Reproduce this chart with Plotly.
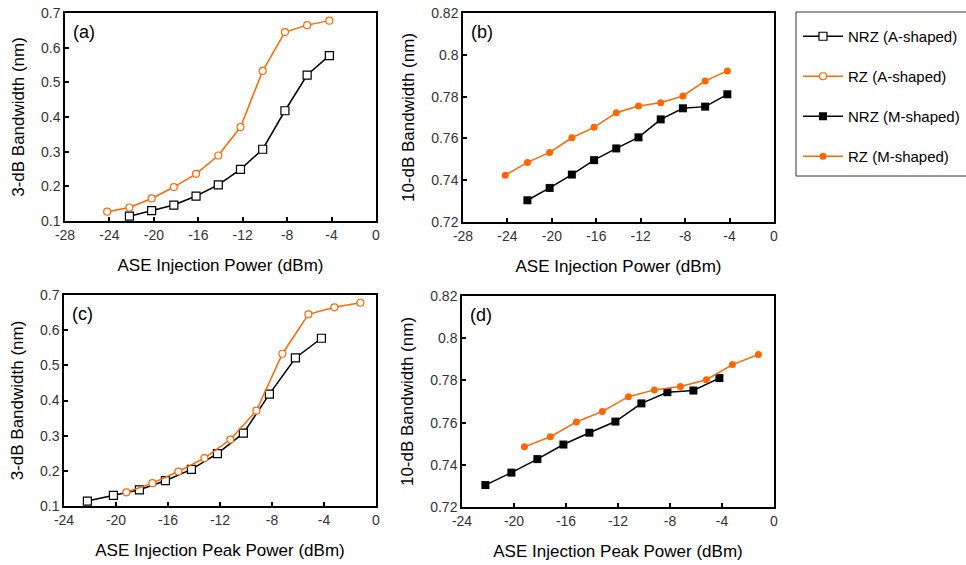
import plotly.graph_objects as go

# ---------------- data ----------------
# average power axis (panels a, b)
rz_x_avg = [-24.2, -22.2, -20.2, -18.2, -16.2, -14.2, -12.2, -10.2, -8.2, -6.2, -4.2]
nrz_x = [-22.2, -20.2, -18.2, -16.2, -14.2, -12.2, -10.2, -8.2, -6.2, -4.2]
# peak power axis (panels c, d)
rz_x_peak = [-19.2, -17.2, -15.2, -13.2, -11.2, -9.2, -7.2, -5.2, -3.2, -1.2]

# 3-dB bandwidth (nm), A-shaped
rz_a_3db = [0.127, 0.139, 0.165, 0.198, 0.236, 0.289, 0.371, 0.533, 0.645, 0.665, 0.678]
nrz_a_3db = [0.114, 0.130, 0.146, 0.172, 0.204, 0.249, 0.307, 0.418, 0.521, 0.577]
rz_a_3db_peak = [0.139, 0.165, 0.198, 0.236, 0.289, 0.371, 0.533, 0.645, 0.665, 0.678]

# 10-dB bandwidth (nm), M-shaped
rz_m_10db = [0.7424, 0.7485, 0.7533, 0.7603, 0.7653, 0.7723, 0.7755, 0.7771, 0.7803, 0.7875, 0.7923]
nrz_m_10db = [0.7304, 0.7363, 0.7427, 0.7496, 0.7552, 0.7605, 0.7691, 0.7744, 0.7752, 0.7811]
rz_m_10db_peak = [0.7485, 0.7533, 0.7603, 0.7653, 0.7723, 0.7755, 0.7771, 0.7803, 0.7875, 0.7923]

# tick labels
xt_avg = [-28, -24, -20, -16, -12, -8, -4, 0]
xt_avg_txt = ["-28", "-24", "-20", "-16", "-12", "-8", "-4", "0"]
xt_peak = [-24, -20, -16, -12, -8, -4, 0]
xt_peak_txt = ["-24", "-20", "-16", "-12", "-8", "-4", "0"]
yt_3db = [0.1, 0.2, 0.3, 0.4, 0.5, 0.6, 0.7]
yt_3db_txt = ["0.1", "0.2", "0.3", "0.4", "0.5", "0.6", "0.7"]
yt_10db = [0.72, 0.74, 0.76, 0.78, 0.80, 0.82]
yt_10db_txt = ["0.72", "0.74", "0.76", "0.78", "0.8", "0.82"]

names = ["NRZ (A-shaped)", "RZ (A-shaped)", "NRZ (M-shaped)", "RZ (M-shaped)"]
panel_labels = ["(a)", "(b)", "(c)", "(d)"]

# ---------------- styles ----------------
ORANGE = "#FF6600"
BLACK = "#000000"
FONT = "Liberation Sans, Arial, sans-serif"
W, H = 966, 565

fig = go.Figure()

def px_dom_x(a, b):
    return [a / W, b / W]

def px_dom_y(top, bottom):
    return [1 - bottom / H, 1 - top / H]

sty = {
    "nrz_a": dict(mode="lines+markers", line=dict(color=BLACK, width=1.5),
                  marker=dict(symbol="square", size=8, color="white", line=dict(color=BLACK, width=1.2))),
    "rz_a": dict(mode="lines+markers", line=dict(color=ORANGE, width=1.5),
                 marker=dict(symbol="circle", size=7, color="white", line=dict(color=ORANGE, width=1.2))),
    "nrz_m": dict(mode="lines+markers", line=dict(color=BLACK, width=1.5),
                  marker=dict(symbol="square", size=8, color=BLACK)),
    "rz_m": dict(mode="lines+markers", line=dict(color=ORANGE, width=1.5),
                 marker=dict(symbol="circle", size=7, color=ORANGE)),
}

# panel a
fig.add_trace(go.Scatter(x=nrz_x, y=nrz_a_3db, name=names[0], legendgroup="g1", xaxis="x", yaxis="y", **sty["nrz_a"]))
fig.add_trace(go.Scatter(x=rz_x_avg, y=rz_a_3db, name=names[1], legendgroup="g2", xaxis="x", yaxis="y", **sty["rz_a"]))
# panel b
fig.add_trace(go.Scatter(x=nrz_x, y=nrz_m_10db, name=names[2], legendgroup="g3", xaxis="x2", yaxis="y2", **sty["nrz_m"]))
fig.add_trace(go.Scatter(x=rz_x_avg, y=rz_m_10db, name=names[3], legendgroup="g4", xaxis="x2", yaxis="y2", **sty["rz_m"]))
# panel c
fig.add_trace(go.Scatter(x=nrz_x, y=nrz_a_3db, name=names[0], legendgroup="g1", showlegend=False, xaxis="x3", yaxis="y3", **sty["nrz_a"]))
fig.add_trace(go.Scatter(x=rz_x_peak, y=rz_a_3db_peak, name=names[1], legendgroup="g2", showlegend=False, xaxis="x3", yaxis="y3", **sty["rz_a"]))
# panel d
fig.add_trace(go.Scatter(x=nrz_x, y=nrz_m_10db, name=names[2], legendgroup="g3", showlegend=False, xaxis="x4", yaxis="y4", **sty["nrz_m"]))
fig.add_trace(go.Scatter(x=rz_x_peak, y=rz_m_10db_peak, name=names[3], legendgroup="g4", showlegend=False, xaxis="x4", yaxis="y4", **sty["rz_m"]))

tickfont = dict(family=FONT, size=14, color="#333333")
titlefont = dict(family=FONT, size=17, color="#000000")

def xax(dom, anchor, rng, tv, tt, title):
    return dict(domain=dom, anchor=anchor, range=rng, tickvals=tv, ticktext=tt,
                showline=True, linecolor=BLACK, linewidth=1.5, mirror=True,
                ticks="inside", ticklen=4, tickwidth=1.5, tickcolor=BLACK,
                showgrid=False, zeroline=False, tickfont=tickfont, automargin=False,
                title=dict(text=title, font=titlefont, standoff=18))

def yax(dom, anchor, rng, tv, tt, title):
    return dict(domain=dom, anchor=anchor, range=rng, tickvals=tv, ticktext=tt,
                showline=True, linecolor=BLACK, linewidth=1.5, mirror=True,
                ticks="inside", ticklen=4, tickwidth=1.5, tickcolor=BLACK,
                showgrid=False, zeroline=False, tickfont=tickfont, automargin=False,
                title=dict(text=title, font=titlefont, standoff=12))

fig.update_layout(
    width=W, height=H,
    margin=dict(l=0, r=0, t=0, b=0),
    paper_bgcolor="white", plot_bgcolor="white",
    font=dict(family=FONT),
    xaxis=xax(px_dom_x(65, 376), "y", [-28, 0], xt_avg, xt_avg_txt, "ASE Injection Power (dBm)"),
    yaxis=yax(px_dom_y(13, 221), "x", [0.1, 0.7], yt_3db, yt_3db_txt, "3-dB Bandwidth (nm)"),
    xaxis2=xax(px_dom_x(463, 774), "y2", [-28, 0], xt_avg, xt_avg_txt, "ASE Injection Power (dBm)"),
    yaxis2=yax(px_dom_y(13, 222), "x2", [0.72, 0.82], yt_10db, yt_10db_txt, "10-dB Bandwidth (nm)"),
    xaxis3=xax(px_dom_x(64, 376), "y3", [-24, 0], xt_peak, xt_peak_txt, "ASE Injection Peak Power (dBm)"),
    yaxis3=yax(px_dom_y(295, 506), "x3", [0.1, 0.7], yt_3db, yt_3db_txt, "3-dB Bandwidth (nm)"),
    xaxis4=xax(px_dom_x(462, 774), "y4", [-24, 0], xt_peak, xt_peak_txt, "ASE Injection Peak Power (dBm)"),
    yaxis4=yax(px_dom_y(296, 507), "x4", [0.72, 0.82], yt_10db, yt_10db_txt, "10-dB Bandwidth (nm)"),
    legend=dict(x=798 / W, y=1 - 20 / H, xanchor="left", yanchor="top",
                borderwidth=0, bgcolor="rgba(0,0,0,0)",
                font=dict(family=FONT, size=15, color="#000000"),
                tracegroupgap=17.5, itemwidth=40),
    showlegend=True,
    shapes=[dict(type="rect", xref="paper", yref="paper",
                 x0=796 / W, x1=1.02, y0=1 - 176 / H, y1=1 - 12 / H,
                 line=dict(color="#333333", width=1), fillcolor="rgba(0,0,0,0)", layer="below")],
)

axes_refs = [("x", "y"), ("x2", "y2"), ("x3", "y3"), ("x4", "y4")]
for lab, (xr, yr) in zip(panel_labels, axes_refs):
    fig.add_annotation(text=lab, xref=f"{xr} domain", yref=f"{yr} domain", x=0.02, y=0.965,
                       xanchor="left", yanchor="top", showarrow=False,
                       font=dict(family=FONT, size=18, color="#000000"))

fig.write_html("out.html", config={"displayModeBar": False},
               post_script="document.body.style.margin='0px';")
